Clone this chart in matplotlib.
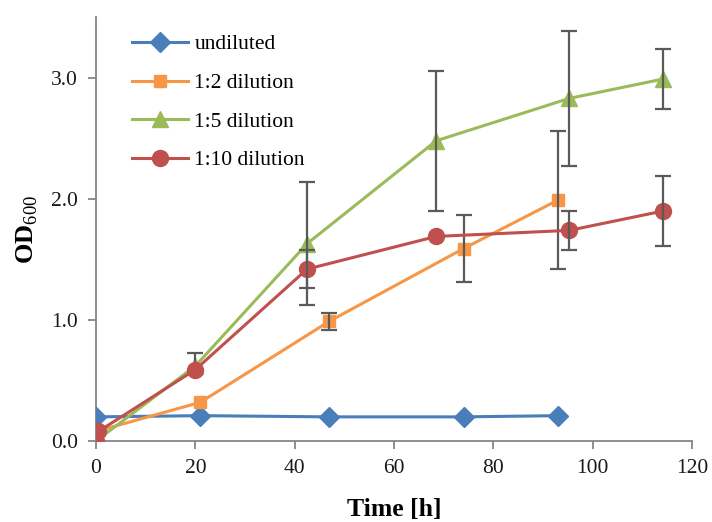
import matplotlib
matplotlib.use("Agg")
import matplotlib.pyplot as plt
from matplotlib.ticker import FormatStrFormatter

plt.rcParams['font.family'] = ['Liberation Serif', 'DejaVu Serif']
plt.rcParams['mathtext.fontset'] = 'custom'
plt.rcParams['mathtext.rm'] = 'Liberation Serif'
plt.rcParams['mathtext.bf'] = 'Liberation Serif:bold'

# Growth curves (OD600 over time) for different inoculum dilutions
t_undiluted = [0, 21, 47, 74, 93]
od_undiluted = [0.20, 0.21, 0.20, 0.20, 0.21]

t_dil2 = [0, 21, 47, 74, 93]
od_dil2 = [0.08, 0.32, 0.99, 1.59, 1.99]
err_dil2 = [0.0, 0.0, 0.07, 0.28, 0.57]

t_dil5 = [0, 20, 42.5, 68.5, 95.3, 114.2]
od_dil5 = [0.0, 0.62, 1.63, 2.48, 2.83, 2.99]
err_dil5 = [0.0, 0.11, 0.51, 0.58, 0.56, 0.25]

t_dil10 = [0, 0.5, 20, 42.5, 68.5, 95.3, 114.2]
od_dil10 = [0.0, 0.08, 0.59, 1.42, 1.69, 1.74, 1.90]
err_dil10 = [0.0, 0.0, 0.0, 0.16, 0.0, 0.16, 0.29]

labels = ['undiluted', '1:2 dilution', '1:5 dilution', '1:10 dilution']
colors = ['#4A7EBB', '#F79646', '#9BBB59', '#C0504D']
x_ticks = [0, 20, 40, 60, 80, 100, 120]
y_ticks = [0.0, 1.0, 2.0, 3.0]

fig = plt.figure(figsize=(7.12, 5.22), dpi=100)
ax = fig.add_axes([0.1348, 0.155, 0.8372, 0.812])

err_kw = dict(fmt='none', ecolor='#5A5A5A', elinewidth=1.6, capsize=6, capthick=1.6)

series = [
    (t_undiluted, od_undiluted, None, 'D', 10),
    (t_dil2, od_dil2, err_dil2, 's', 8.5),
    (t_dil5, od_dil5, err_dil5, '^', 11),
    (t_dil10, od_dil10, err_dil10, 'o', 11.5),
]

for i, (t, od, err, mk, ms) in enumerate(series):
    ax.plot(t, od, color=colors[i], marker=mk, markersize=ms, linewidth=2.2,
            label=labels[i], zorder=3 + 2 * i)
    if err is not None:
        # only points with a nonzero deviation get an error bar
        pts = [(x, y, e) for x, y, e in zip(t, od, err) if e > 0]
        xs, ys, es = zip(*pts)
        if i == 2:
            # lower whisker at 20 h is hidden behind the 1:10 marker
            lower = [0.05 if x == 20 else e for x, e in zip(xs, es)]
            yerr = [lower, list(es)]
        else:
            yerr = list(es)
        ax.errorbar(xs, ys, yerr=yerr, zorder=4 + 2 * i, **err_kw)

ax.set_xlim(0, 120)
ax.set_ylim(0, 3.5)
ax.set_xticks(x_ticks)
ax.set_yticks(y_ticks)
ax.yaxis.set_major_formatter(FormatStrFormatter('%.1f'))

for side in ['top', 'right']:
    ax.spines[side].set_visible(False)
for side in ['left', 'bottom']:
    ax.spines[side].set_color('#868686')
    ax.spines[side].set_linewidth(1.3)
ax.tick_params(axis='both', colors='#868686', length=6, width=1.3,
               labelsize=15.5, labelcolor='#1a1a1a', pad=7)

ax.set_xlabel('Time [h]', fontsize=18.5, fontweight='bold', labelpad=14)
ax.set_ylabel(r'$\mathbf{OD}_{\mathrm{600}}$', fontsize=19, labelpad=8)

ax.legend(loc='upper left', bbox_to_anchor=(0.035, 0.995), frameon=False,
          fontsize=15.5, handlelength=2.6, labelspacing=0.86, handletextpad=0.3,
          borderaxespad=0.3)

fig.savefig('out.png', dpi=100)
